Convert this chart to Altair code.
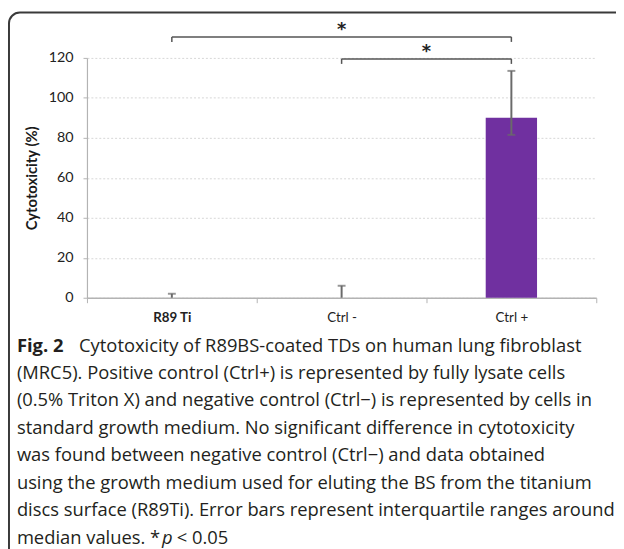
import altair as alt
import pandas as pd

# ---------------- data ----------------
categories = ["R89 Ti", "Ctrl -", "Ctrl +"]
medians = [0, 0, 90]
q_low = [0, 0, 81.5]
q_high = [2, 6, 113.5]

bracket_left = ["R89 Ti", "Ctrl -"]
bracket_right = ["Ctrl +", "Ctrl +"]
bracket_y = [130.5, 119.5]
bracket_drop = [128.0, 117.0]
star_text = ["*", "*"]
star_y = [134.0, 123.0]

y_ticks = [0, 20, 40, 60, 80, 100, 120]

caption_bold = "Fig. 2"
caption_first = "Cytotoxicity of R89BS-coated TDs on human lung fibroblast"
caption_middle = [
    "(MRC5). Positive control (Ctrl+) is represented by fully lysate cells",
    "(0.5% Triton X) and negative control (Ctrl\u2212) is represented by cells in",
    "standard growth medium. No significant difference in cytotoxicity",
    "was found between negative control (Ctrl\u2212) and data obtained",
    "using the growth medium used for eluting the BS from the titanium",
    "discs surface (R89Ti). Error bars represent interquartile ranges around",
]
caption_last = ["median values. *", "p", "< 0.05"]

# ---------------- layout ----------------
W, H = 516, 243
AX_FONT = "Lato"
CAP_FONT = "Open Sans"
CAP_FS = 18.6
LINE_H = 27.8

df = pd.DataFrame({"cat": categories, "median": medians, "low": q_low, "high": q_high})
caps = pd.DataFrame({
    "cat": categories * 2,
    "val": q_high + q_low,
    "show": [h > 0 for h in q_high] + [l > 0 for l in q_low],
})
caps = caps[caps["show"]]

br = pd.DataFrame({"left": bracket_left, "right": bracket_right, "by": bracket_y, "drop": bracket_drop})
ends = pd.DataFrame({
    "cat": bracket_left + bracket_right,
    "by": bracket_y * 2,
    "drop": bracket_drop * 2,
})

xscale = alt.Scale(domain=categories, paddingInner=0, paddingOuter=0)
yscale = alt.Scale(domain=[0, 120], nice=False, zero=True)

xenc = alt.X(
    "cat:N",
    scale=xscale,
    sort=categories,
    axis=alt.Axis(
        title=None,
        labelAngle=0,
        tickBand="extent",
        tickSize=5,
        labelPadding=8,
        labelFont=AX_FONT,
        labelFontSize=13.5,
        labelColor="#222222",
        labelFontWeight=alt.ExprRef("datum.value == 'R89 Ti' ? 'bold' : 'normal'"),
        domainColor="#b3b3b3",
        domainWidth=1.5,
        tickColor="#b3b3b3",
        tickWidth=1,
        grid=False,
    ),
)

yaxis = alt.Axis(
    values=y_ticks,
    title="Cytotoxicity (%)",
    titleFont=AX_FONT,
    titleFontSize=15,
    titleFontWeight="bold",
    titleColor="#1a1a1a",
    titlePadding=9,
    labelFont=AX_FONT,
    labelFontSize=14.5,
    labelColor="#222222",
    labelPadding=10,
    tickSize=4,
    tickColor="#b3b3b3",
    domainColor="#b3b3b3",
    domainWidth=1.2,
    grid=True,
    gridColor="#d6d6d6",
    gridDash=[2, 2],
    gridWidth=1,
)

bars = alt.Chart(df).mark_bar(size=52, color="#7030A0").encode(
    x=xenc,
    y=alt.Y("median:Q", scale=yscale, axis=yaxis),
)

err = alt.Chart(df).mark_rule(color="#6a6a6a", strokeWidth=2).encode(
    x=alt.X("cat:N", scale=xscale, sort=categories),
    y=alt.Y("low:Q", scale=yscale),
    y2="high:Q",
)

cap_marks = alt.Chart(caps).mark_tick(size=8, thickness=2, color="#6a6a6a").encode(
    x=alt.X("cat:N", scale=xscale, sort=categories),
    y=alt.Y("val:Q", scale=yscale),
)

br_h = alt.Chart(br).mark_rule(color="#555555", strokeWidth=1.5).encode(
    x=alt.X("left:N", scale=xscale, sort=categories),
    x2="right:N",
    y=alt.Y("by:Q", scale=yscale),
)

br_v = alt.Chart(ends).mark_rule(color="#555555", strokeWidth=1.5).encode(
    x=alt.X("cat:N", scale=xscale, sort=categories),
    y=alt.Y("by:Q", scale=yscale),
    y2="drop:Q",
)

star_layers = []
for l, r, sy, st in zip(bracket_left, bracket_right, star_y, star_text):
    mid = (categories.index(l) + categories.index(r)) / 2.0
    base = int(mid)
    frac = mid - base
    sdf = pd.DataFrame({"cat": [categories[base]], "sy": [sy], "t": [st]})
    star_layers.append(
        alt.Chart(sdf).mark_text(font="DejaVu Sans", fontSize=18, fontWeight="bold", color="#222222", baseline="middle").encode(
            x=alt.X("cat:N", scale=xscale, sort=categories, bandPosition=0.5 + frac),
            y=alt.Y("sy:Q", scale=yscale),
            text="t:N",
        )
    )

one = pd.DataFrame({"k": [0]})

frame = alt.Chart(one).mark_rect(
    filled=False, stroke="#3a3a3a", strokeWidth=2, cornerRadius=11
).encode(
    x=alt.value(-79), x2=alt.value(620), y=alt.value(-46), y2=alt.value(560)
)

cap_x = -71
line1_y = 291.5

def cap_text(txt, x, y, **kw):
    return alt.Chart(one).mark_text(
        text=txt, font=CAP_FONT, fontSize=CAP_FS, color="#231f20",
        align="left", baseline="middle", **kw
    ).encode(x=alt.value(x), y=alt.value(y))

t_bold = cap_text(caption_bold, cap_x, line1_y, fontWeight="bold")
t_first = cap_text(caption_first, -8, line1_y)
t_mid = cap_text(caption_middle, cap_x, line1_y + LINE_H, lineHeight=LINE_H)

last_y = line1_y + LINE_H * 7
t_last1 = cap_text(caption_last[0], cap_x, last_y)
t_last2 = cap_text(caption_last[1], cap_x + 147, last_y, fontStyle="italic")
t_last3 = cap_text(caption_last[2], cap_x + 162, last_y)

chart = alt.layer(
    frame, bars, err, cap_marks, br_h, br_v, *star_layers,
    t_bold, t_first, t_mid, t_last1, t_last2, t_last3,
).properties(
    width=W, height=H,
    autosize=alt.AutoSizeParams(type="none"),
    padding={"left": 80, "top": 47, "right": 20, "bottom": 251},
    background="white",
).configure_view(stroke=None)

chart.save("out.html", embed_options={"renderer": "svg", "actions": False})
